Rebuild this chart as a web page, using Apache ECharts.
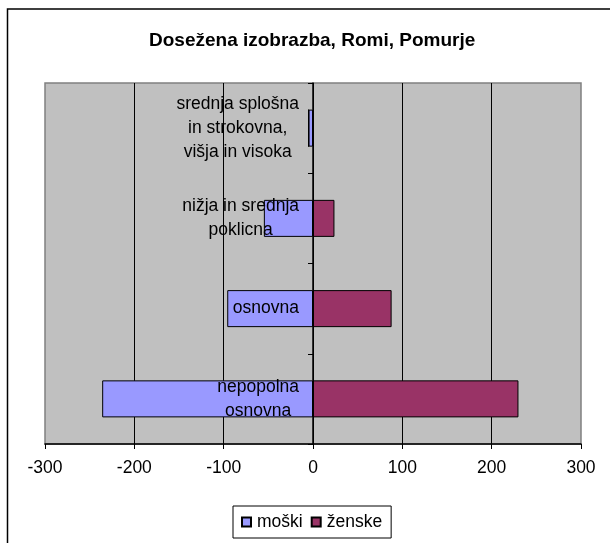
<!DOCTYPE html>
<html>
<head>
<meta charset="utf-8">
<style>
	html, body { margin: 0; padding: 0; background: #fff; }
	#chart { width: 610px; height: 543px; }
</style>
<script src="https://cdn.jsdelivr.net/npm/echarts@6/dist/echarts.min.js"></script>
</head>
<body>
<div id="chart"></div>
<script>
	// podatki
	var categories = ['nepopolna\nosnovna', 'osnovna', 'nižja in srednja\npoklicna', 'srednja splošna\nin strokovna,\nvišja in visoka'];
	var moski = [-236, -96, -55, -5];
	var zenske = [230, 88, 24, 0];
	var xMin = -300, xMax = 300, xStep = 100;

	var font = 'Liberation Sans, Arial, sans-serif';
	var chart = echarts.init(document.getElementById('chart'));

	var option = {
		animation: false,
		color: ['#9999ff', '#993366'],
		title: {
			text: 'Dosežena izobrazba, Romi, Pomurje',
			left: 149,
			top: 31,
			padding: 0,
			textStyle: { fontFamily: font, fontSize: 19, fontWeight: 'bold', color: '#000' }
		},
		legend: {
			data: ['moški', 'ženske'],
			left: 233,
			top: 506,
			padding: [7, 9, 7, 8],
			itemWidth: 9,
			itemHeight: 9,
			itemGap: 8,
			borderColor: '#000',
			borderWidth: 1,
			icon: 'rect',
			textStyle: { fontFamily: font, fontSize: 17.5, color: '#000', padding: [0, 0, 0, 1] }
		},
		grid: {
			show: true,
			left: 45,
			right: 29,
			top: 83,
			bottom: 99,
			outerBoundsMode: 'none',
			containLabel: false,
			backgroundColor: '#c0c0c0',
			borderColor: '#808080',
			borderWidth: 1.5
		},
		xAxis: {
			type: 'value',
			min: xMin,
			max: xMax,
			interval: xStep,
			axisLine: { show: true, lineStyle: { color: '#000', width: 1.5 } },
			axisTick: { show: true, length: 5, lineStyle: { color: '#000' } },
			axisLabel: { fontFamily: font, fontSize: 17.5, color: '#000', margin: 15 },
			splitLine: {
				show: true,
				showMinLine: false,
				showMaxLine: false,
				lineStyle: { color: '#000', width: 1 }
			}
		},
		yAxis: {
			type: 'category',
			data: categories,
			z: 10,
			axisLine: { show: true, onZero: true, lineStyle: { color: '#000', width: 1.5 } },
			axisTick: { show: true, length: 5, lineStyle: { color: '#000' } },
			axisLabel: {
				interval: 0,
				// oznake ostanejo na levem robu, zato jih zamaknemo do osi 0
				margin: -254,
				align: 'right',
				formatter: function (v) {
					return v.split('\n').map(function (s) { return '{c|' + s + '}'; }).join('\n');
				},
				rich: {
					c: { align: 'center', fontFamily: font, fontSize: 17.5, lineHeight: 24, color: '#000' }
				}
			},
			splitLine: { show: false }
		},
		series: [{
			name: 'moški',
			type: 'bar',
			stack: 'pop',
			barWidth: '41%',
			data: moski,
			itemStyle: { borderColor: '#000', borderWidth: 1 }
		}, {
			name: 'ženske',
			type: 'bar',
			stack: 'pop',
			barWidth: '41%',
			data: zenske,
			itemStyle: { borderColor: '#000', borderWidth: 1 }
		}],
		graphic: [{
			// okvir grafa
			type: 'rect',
			silent: true,
			shape: { x: 7.5, y: 9, width: 640, height: 600 },
			style: { fill: null, stroke: '#000', lineWidth: 1.5 }
		}]
	};
	chart.setOption(option);
</script>
</body>
</html>
